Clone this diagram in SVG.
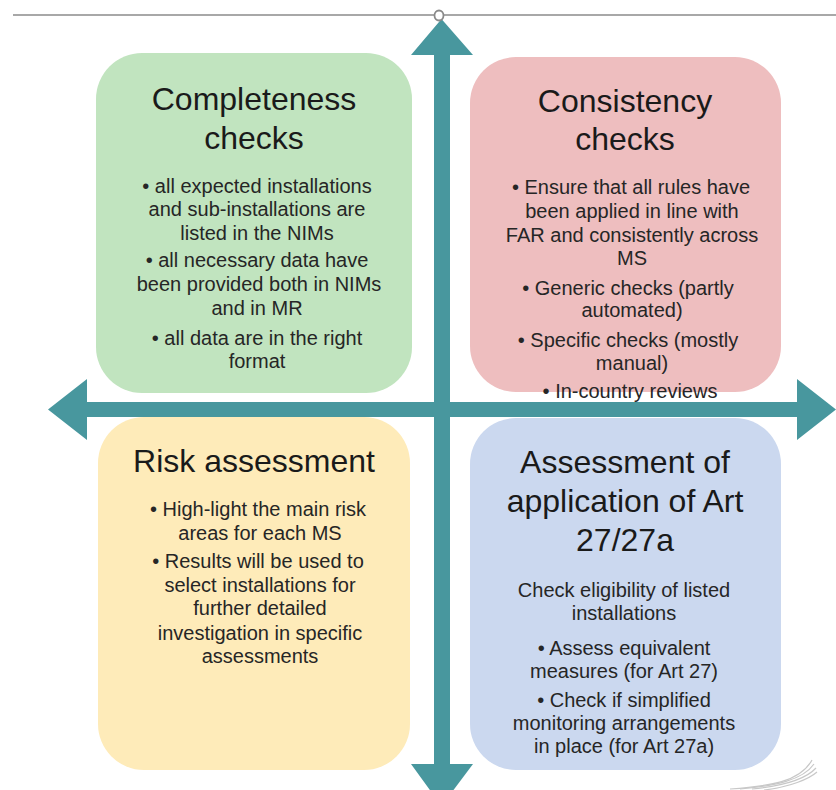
<svg xmlns="http://www.w3.org/2000/svg" width="836" height="790" viewBox="0 0 836 790">
<style>
.title{font-family:"Liberation Sans",Arial,sans-serif;font-size:32px;fill:#1a1a1a;text-anchor:middle}
.body{font-family:"Liberation Sans",Arial,sans-serif;font-size:20px;fill:#262626;text-anchor:middle}
.arrow{fill:#48979E}
.deco{fill:none;stroke:#c8c8c8;stroke-width:1.2}
</style>
<rect width="836" height="790" fill="#ffffff"/>
<line x1="13" y1="15" x2="836" y2="15" stroke="#a8a8a8" stroke-width="2"/>
<g id="completeness">
<rect x="96" y="53" width="316" height="340" rx="46" fill="#C1E4BF"/>
<text class="title" x="254" y="110">Completeness</text>
<text class="title" x="254" y="149">checks</text>
<text class="body" x="257" y="193">• all expected installations</text>
<text class="body" x="257" y="216">and sub-installations are</text>
<text class="body" x="257" y="240">listed in the NIMs</text>
<text class="body" x="257" y="267">• all necessary data have</text>
<text class="body" x="259" y="291">been provided both in NIMs</text>
<text class="body" x="257" y="315">and in MR</text>
<text class="body" x="257" y="345">• all data are in the right</text>
<text class="body" x="257" y="368">format</text>
</g>
<g id="consistency">
<rect x="470" y="57" width="311" height="335" rx="46" fill="#EEBEBF"/>
<text class="title" x="625" y="112">Consistency</text>
<text class="title" x="625" y="150">checks</text>
<text class="body" x="631" y="194">• Ensure that all rules have</text>
<text class="body" x="632" y="218">been applied in line with</text>
<text class="body" x="632" y="242">FAR and consistently across</text>
<text class="body" x="632" y="265">MS</text>
<text class="body" x="628" y="295">• Generic checks (partly</text>
<text class="body" x="632" y="317">automated)</text>
<text class="body" x="628" y="347">• Specific checks (mostly</text>
<text class="body" x="632" y="370">manual)</text>
<text class="body" x="630" y="398">• In-country reviews</text>
</g>
<g id="risk">
<rect x="98" y="417" width="312" height="353" rx="46" fill="#FEEBB9"/>
<text class="title" x="254" y="472">Risk assessment</text>
<text class="body" x="258" y="516">• High-light the main risk</text>
<text class="body" x="260" y="540">areas for each MS</text>
<text class="body" x="258" y="568">• Results will be used to</text>
<text class="body" x="260" y="592">select installations for</text>
<text class="body" x="260" y="615">further detailed</text>
<text class="body" x="260" y="640">investigation in specific</text>
<text class="body" x="260" y="663">assessments</text>
</g>
<g id="art27">
<rect x="470" y="418" width="311" height="352" rx="46" fill="#CBD8EF"/>
<text class="title" x="625" y="473">Assessment of</text>
<text class="title" x="625" y="512">application of Art</text>
<text class="title" x="625" y="551">27/27a</text>
<text class="body" x="624" y="597">Check eligibility of listed</text>
<text class="body" x="624" y="620">installations</text>
<text class="body" x="624" y="655">• Assess equivalent</text>
<text class="body" x="624" y="678">measures (for Art 27)</text>
<text class="body" x="624" y="707">• Check if simplified</text>
<text class="body" x="624" y="730">monitoring arrangements</text>
<text class="body" x="624" y="753">in place (for Art 27a)</text>
</g>
<g id="connectors">
<path class="arrow" d="M48,409.5 L87,379 L87,402 L797,402 L797,379 L836,409.5 L797,440 L797,417 L87,417 L87,440 Z"/>
<path class="arrow" d="M441.5,19 L473,55 L450,55 L450,764 L473,764 L441.5,806 L411,764 L434,764 L434,55 L411,55 Z"/>
</g>
<ellipse cx="439" cy="15.5" rx="4.5" ry="5" fill="#ffffff" stroke="#8a8a8a" stroke-width="1.8"/>
<g id="decoration">
<path class="deco" d="M730,789 C770,786 800,782 812,760"/>
<path class="deco" d="M740,789 C775,786 803,780 814,764"/>
<path class="deco" d="M752,789 C782,786 806,779 816,768"/>
<path class="deco" d="M764,790 C790,787 809,779 817,772"/>
</g>
</svg>
